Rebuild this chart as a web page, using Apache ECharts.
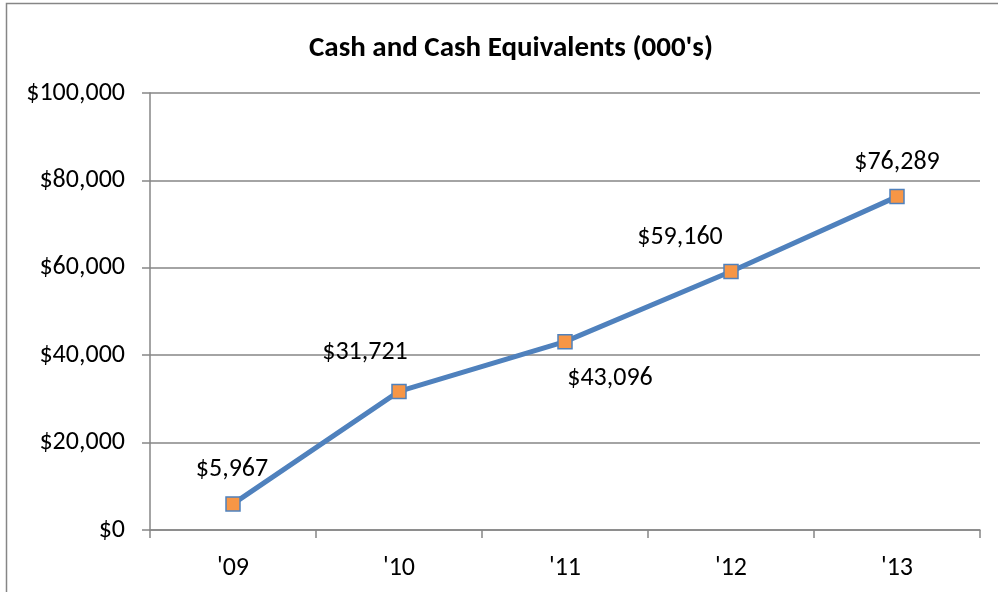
<!DOCTYPE html>
<html><head><meta charset="utf-8">
<script src="https://cdn.jsdelivr.net/npm/echarts@6/dist/echarts.min.js"></script>
<style>html,body{margin:0;padding:0;background:#fff}#c{width:998px;height:592px}</style>
</head><body><div id="c"></div>
<script>
const categories = ["'09", "'10", "'11", "'12", "'13"];
const cashValues = [5967, 31721, 43096, 59160, 76289];
const yTicks = [0, 20000, 40000, 60000, 80000, 100000];

const labelOffsets = [[-1, -34], [-34, -39], [45, 37], [-51, -34], [0, -34]];
const fmt = v => '$' + v.toString().replace(/\B(?=(\d{3})+(?!\d))/g, ',');
const font = 'Calibri, Carlito, "Open Sans", "Noto Sans", sans-serif';

const chart = echarts.init(document.getElementById('c'));
chart.setOption({
  animation: false,
  textStyle: { fontFamily: font },
  title: {
    text: "Cash and Cash Equivalents (000's)",
    left: 304, top: 29,
    textStyle: { fontFamily: font, fontSize: 29, fontWeight: 'bold', color: '#000' }
  },
  graphic: [{
    type: 'rect', shape: { x: 6.5, y: 3.5, width: 1100, height: 700 },
    style: { fill: 'none', stroke: '#868686', lineWidth: 1.5 }, silent: true
  }],
  grid: { left: 150, right: 18, top: 93, bottom: 62 },
  xAxis: {
    type: 'category', data: categories, boundaryGap: true,
    axisLine: { lineStyle: { color: '#868686', width: 1.5 } },
    axisTick: { show: true, length: 8, lineStyle: { color: '#868686', width: 1.5 } },
    axisLabel: { color: '#000', fontSize: 26, margin: 25, fontFamily: font }
  },
  yAxis: {
    type: 'value', min: yTicks[0], max: yTicks[yTicks.length - 1], interval: 20000,
    axisLine: { show: true, lineStyle: { color: '#868686', width: 1.5 } },
    axisTick: { show: true, length: 8, lineStyle: { color: '#868686', width: 1.5 } },
    splitLine: { lineStyle: { color: '#868686', width: 1.5 } },
    axisLabel: { color: '#000', fontSize: 26, margin: 25, formatter: fmt, fontFamily: font }
  },
  series: [{
    type: 'line',
    data: cashValues.map((v, i) => ({ value: v, label: { offset: labelOffsets[i] } })),
    lineStyle: { color: '#4F81BD', width: 5 },
    symbol: 'rect', symbolSize: 14,
    itemStyle: { color: '#F79646', borderColor: '#4F81BD', borderWidth: 1.5 },
    label: {
      show: true, position: 'inside', color: '#000', fontSize: 26, fontFamily: font,
      formatter: p => fmt(p.value)
    }
  }]
});
</script></body></html>
